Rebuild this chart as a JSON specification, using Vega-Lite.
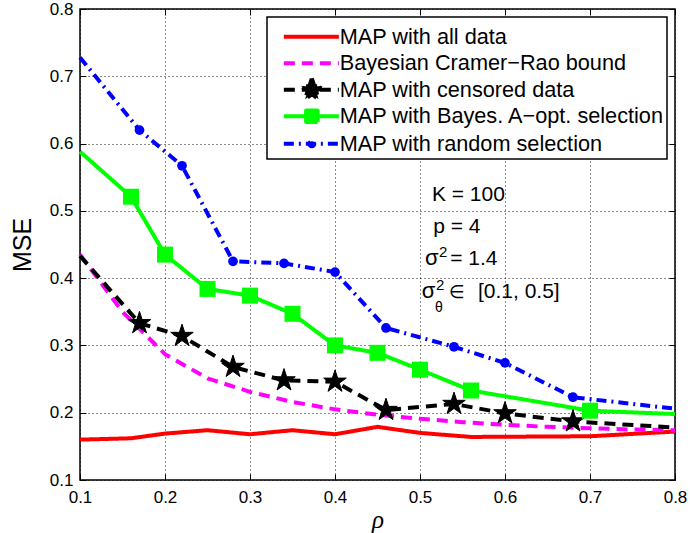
{
  "$schema": "https://vega.github.io/schema/vega-lite/v6.json",
  "width": 595,
  "height": 471,
  "autosize": {"type": "none"},
  "padding": {"left": 80, "top": 9, "right": 15, "bottom": 53},
  "background": "white",
  "config": {
    "view": {"stroke": "black", "strokeWidth": 1.5},
    "font": "Liberation Sans",
    "axis": {
      "labelFont": "Liberation Sans",
      "labelFontSize": 17,
      "labelColor": "black",
      "labelFlush": false,
      "labelOverlap": false,
      "domain": false,
      "tickColor": "black",
      "tickWidth": 1,
      "tickSize": -6,
      "gridColor": "black",
      "gridDash": [1, 3],
      "gridOpacity": 0.9,
      "gridWidth": 1,
      "titleColor": "black",
      "titleFontWeight": "normal"
    }
  },
  "datasets": {
    "curves": [
      {"series": "MAP with all data", "rho": 0.10, "mse": 0.160, "marked": false},
      {"series": "MAP with all data", "rho": 0.16, "mse": 0.162, "marked": false},
      {"series": "MAP with all data", "rho": 0.20, "mse": 0.169, "marked": false},
      {"series": "MAP with all data", "rho": 0.25, "mse": 0.174, "marked": false},
      {"series": "MAP with all data", "rho": 0.30, "mse": 0.168, "marked": false},
      {"series": "MAP with all data", "rho": 0.35, "mse": 0.174, "marked": false},
      {"series": "MAP with all data", "rho": 0.40, "mse": 0.168, "marked": false},
      {"series": "MAP with all data", "rho": 0.45, "mse": 0.179, "marked": false},
      {"series": "MAP with all data", "rho": 0.50, "mse": 0.170, "marked": false},
      {"series": "MAP with all data", "rho": 0.56, "mse": 0.164, "marked": false},
      {"series": "MAP with all data", "rho": 0.70, "mse": 0.165, "marked": false},
      {"series": "MAP with all data", "rho": 0.80, "mse": 0.172, "marked": false},

      {"series": "Bayesian Cramer−Rao bound", "rho": 0.10, "mse": 0.435, "marked": false},
      {"series": "Bayesian Cramer−Rao bound", "rho": 0.15, "mse": 0.350, "marked": false},
      {"series": "Bayesian Cramer−Rao bound", "rho": 0.20, "mse": 0.287, "marked": false},
      {"series": "Bayesian Cramer−Rao bound", "rho": 0.25, "mse": 0.251, "marked": false},
      {"series": "Bayesian Cramer−Rao bound", "rho": 0.30, "mse": 0.231, "marked": false},
      {"series": "Bayesian Cramer−Rao bound", "rho": 0.35, "mse": 0.216, "marked": false},
      {"series": "Bayesian Cramer−Rao bound", "rho": 0.40, "mse": 0.205, "marked": false},
      {"series": "Bayesian Cramer−Rao bound", "rho": 0.45, "mse": 0.197, "marked": false},
      {"series": "Bayesian Cramer−Rao bound", "rho": 0.50, "mse": 0.191, "marked": false},
      {"series": "Bayesian Cramer−Rao bound", "rho": 0.55, "mse": 0.186, "marked": false},
      {"series": "Bayesian Cramer−Rao bound", "rho": 0.60, "mse": 0.182, "marked": false},
      {"series": "Bayesian Cramer−Rao bound", "rho": 0.65, "mse": 0.179, "marked": false},
      {"series": "Bayesian Cramer−Rao bound", "rho": 0.70, "mse": 0.177, "marked": false},
      {"series": "Bayesian Cramer−Rao bound", "rho": 0.75, "mse": 0.175, "marked": false},
      {"series": "Bayesian Cramer−Rao bound", "rho": 0.80, "mse": 0.174, "marked": false},

      {"series": "MAP with censored data", "rho": 0.10, "mse": 0.433, "marked": false},
      {"series": "MAP with censored data", "rho": 0.17, "mse": 0.333, "marked": true},
      {"series": "MAP with censored data", "rho": 0.22, "mse": 0.314, "marked": true},
      {"series": "MAP with censored data", "rho": 0.28, "mse": 0.268, "marked": true},
      {"series": "MAP with censored data", "rho": 0.34, "mse": 0.248, "marked": true},
      {"series": "MAP with censored data", "rho": 0.40, "mse": 0.246, "marked": true},
      {"series": "MAP with censored data", "rho": 0.46, "mse": 0.204, "marked": true},
      {"series": "MAP with censored data", "rho": 0.54, "mse": 0.213, "marked": true},
      {"series": "MAP with censored data", "rho": 0.60, "mse": 0.199, "marked": true},
      {"series": "MAP with censored data", "rho": 0.68, "mse": 0.187, "marked": true},
      {"series": "MAP with censored data", "rho": 0.80, "mse": 0.178, "marked": false},

      {"series": "MAP with Bayes. A−opt. selection", "rho": 0.10, "mse": 0.588, "marked": false},
      {"series": "MAP with Bayes. A−opt. selection", "rho": 0.16, "mse": 0.521, "marked": true},
      {"series": "MAP with Bayes. A−opt. selection", "rho": 0.20, "mse": 0.435, "marked": true},
      {"series": "MAP with Bayes. A−opt. selection", "rho": 0.25, "mse": 0.384, "marked": true},
      {"series": "MAP with Bayes. A−opt. selection", "rho": 0.30, "mse": 0.374, "marked": true},
      {"series": "MAP with Bayes. A−opt. selection", "rho": 0.35, "mse": 0.347, "marked": true},
      {"series": "MAP with Bayes. A−opt. selection", "rho": 0.40, "mse": 0.300, "marked": true},
      {"series": "MAP with Bayes. A−opt. selection", "rho": 0.45, "mse": 0.289, "marked": true},
      {"series": "MAP with Bayes. A−opt. selection", "rho": 0.50, "mse": 0.264, "marked": true},
      {"series": "MAP with Bayes. A−opt. selection", "rho": 0.56, "mse": 0.233, "marked": true},
      {"series": "MAP with Bayes. A−opt. selection", "rho": 0.70, "mse": 0.203, "marked": true},
      {"series": "MAP with Bayes. A−opt. selection", "rho": 0.80, "mse": 0.198, "marked": false},

      {"series": "MAP with random selection", "rho": 0.10, "mse": 0.728, "marked": false},
      {"series": "MAP with random selection", "rho": 0.17, "mse": 0.620, "marked": true},
      {"series": "MAP with random selection", "rho": 0.22, "mse": 0.567, "marked": true},
      {"series": "MAP with random selection", "rho": 0.28, "mse": 0.425, "marked": true},
      {"series": "MAP with random selection", "rho": 0.34, "mse": 0.422, "marked": true},
      {"series": "MAP with random selection", "rho": 0.40, "mse": 0.409, "marked": true},
      {"series": "MAP with random selection", "rho": 0.46, "mse": 0.326, "marked": true},
      {"series": "MAP with random selection", "rho": 0.54, "mse": 0.298, "marked": true},
      {"series": "MAP with random selection", "rho": 0.60, "mse": 0.274, "marked": true},
      {"series": "MAP with random selection", "rho": 0.68, "mse": 0.223, "marked": true},
      {"series": "MAP with random selection", "rho": 0.80, "mse": 0.206, "marked": false}
    ]
  },
  "data": {"name": "curves"},
  "resolve": {"axis": {"x": "independent", "y": "independent"}},
  "layer": [
    {
      "mark": {"type": "line", "strokeCap": "butt", "strokeJoin": "round"},
      "encoding": {
        "x": {
          "field": "rho", "type": "quantitative", "title": "ρ",
          "scale": {"domain": [0.1, 0.8], "nice": false, "zero": false},
          "axis": {
            "values": [0.1, 0.2, 0.3, 0.4, 0.5, 0.6, 0.7, 0.8], "format": ".1f",
            "labelPadding": 15, "titleFont": "Liberation Serif", "titleFontStyle": "italic",
            "titleFontSize": 25, "titlePadding": 2
          }
        },
        "y": {
          "field": "mse", "type": "quantitative", "title": "MSE",
          "scale": {"domain": [0.1, 0.8], "nice": false, "zero": false},
          "axis": {
            "values": [0.1, 0.2, 0.3, 0.4, 0.5, 0.6, 0.7, 0.8], "format": ".1f",
            "labelPadding": 13, "titleFont": "Liberation Sans", "titleFontSize": 25, "titlePadding": 14
          }
        },
        "color": {
          "field": "series", "type": "nominal",
          "scale": {
            "domain": ["MAP with all data", "Bayesian Cramer−Rao bound", "MAP with censored data", "MAP with Bayes. A−opt. selection", "MAP with random selection"],
            "range": ["#ff0000", "#ff00ff", "#000000", "#00ff00", "#0000ff"]
          },
          "legend": {
            "title": " ", "titleFontSize": 2, "titlePadding": 5,
            "orient": "top-right", "offset": 8, "padding": 2,
            "fillColor": "white", "strokeColor": "black",
            "labelFont": "Liberation Sans", "labelFontSize": 21.7, "labelColor": "black",
            "labelLimit": 600, "labelOffset": 49, "symbolSize": 100, "rowPadding": 0.5,
            "encode": {
              "legend": {"update": {"strokeWidth": {"value": 1.5}}},
              "symbols": {
                "update": {
                  "shape": {"signal": "datum.index === 2 ? 'M0.8,0H11.8M6.4,-2.3M6.4,1.86M6.4,-2.3L6.916,-0.711L8.588,-0.711L7.236,0.271L7.752,1.861L6.4,0.879L5.048,1.861L5.564,0.271L4.213,-0.711L5.884,-0.711Z' : datum.index === 3 ? 'M0.8,0H11.8M6.4,-2.3M6.4,1.86M5.25,-1.15H7.55V1.15H5.25Z' : datum.index === 4 ? 'M0.8,0H11.8M6.4,-2.5M6.4,2.06M6.9,0A0.5,0.5,0,1,1,5.9,0A0.5,0.5,0,1,1,6.9,0Z' : 'M0.8,0H11.8M6.4,-2.3M6.4,1.86'"},
                  "fill": {"scale": "color", "field": "value"},
                  "stroke": {"scale": "color", "field": "value"},
                  "strokeDash": {"signal": "datum.index === 1 || datum.index === 2 ? [11, 7] : datum.index === 4 ? [10, 5, 2, 5] : [1, 0]"},
                  "strokeWidth": {"signal": "datum.index === 4 ? 3 : 4"},
                  "strokeJoin": {"value": "round"},
                  "opacity": {"value": 1},
                  "fillOpacity": {"value": 1},
                  "strokeOpacity": {"value": 1}
                }
              }
            }
          }
        },
        "strokeDash": {
          "field": "series", "type": "nominal", "legend": null,
          "scale": {
            "domain": ["MAP with all data", "Bayesian Cramer−Rao bound", "MAP with censored data", "MAP with Bayes. A−opt. selection", "MAP with random selection"],
            "range": [[1, 0], [11, 7], [11, 7], [1, 0], [10, 5, 2, 5]]
          }
        },
        "strokeWidth": {
          "field": "series", "type": "ordinal", "legend": null,
          "scale": {
            "domain": ["MAP with all data", "Bayesian Cramer−Rao bound", "MAP with censored data", "MAP with Bayes. A−opt. selection", "MAP with random selection"],
            "range": [4, 4, 4, 4, 3]
          }
        },
        "order": {"field": "rho", "type": "quantitative"}
      }
    },
    {
      "transform": [{"filter": "datum.marked && datum.series === 'MAP with censored data'"}],
      "mark": {
        "type": "point", "filled": true, "color": "black", "stroke": "black", "strokeWidth": 1, "opacity": 1, "size": 560,
        "shape": "M0,-1L0.2245,-0.309L0.9511,-0.309L0.3633,0.118L0.5878,0.809L0,0.382L-0.5878,0.809L-0.3633,0.118L-0.9511,-0.309L-0.2245,-0.309Z"
      },
      "encoding": {
        "x": {"field": "rho", "type": "quantitative", "axis": null},
        "y": {"field": "mse", "type": "quantitative", "axis": null}
      }
    },
    {
      "transform": [{"filter": "datum.marked && datum.series === 'MAP with Bayes. A−opt. selection'"}],
      "mark": {"type": "point", "shape": "square", "filled": true, "color": "#00ff00", "opacity": 1, "size": 256},
      "encoding": {
        "x": {"field": "rho", "type": "quantitative", "axis": null},
        "y": {"field": "mse", "type": "quantitative", "axis": null}
      }
    },
    {
      "transform": [{"filter": "datum.marked && datum.series === 'MAP with random selection'"}],
      "mark": {"type": "point", "shape": "circle", "filled": true, "color": "#0000ff", "opacity": 1, "size": 95},
      "encoding": {
        "x": {"field": "rho", "type": "quantitative", "axis": null},
        "y": {"field": "mse", "type": "quantitative", "axis": null}
      }
    },
    {
      "mark": {"type": "point", "opacity": 0},
      "encoding": {
        "x": {"field": "rho", "type": "quantitative", "axis": {"orient": "top", "labels": false, "grid": false, "title": null, "values": [0.1, 0.2, 0.3, 0.4, 0.5, 0.6, 0.7, 0.8]}},
        "y": {"field": "mse", "type": "quantitative", "axis": {"orient": "right", "labels": false, "grid": false, "title": null, "values": [0.1, 0.2, 0.3, 0.4, 0.5, 0.6, 0.7, 0.8]}}
      }
    },
    {
      "data": {"values": [{}]},
      "mark": {"type": "text", "text": "K = 100", "font": "Liberation Sans", "fontSize": 21, "align": "left", "baseline": "alphabetic", "color": "black"},
      "encoding": {"x": {"datum": 0.514, "type": "quantitative", "axis": null}, "y": {"datum": 0.515, "type": "quantitative", "axis": null}}
    },
    {
      "data": {"values": [{}]},
      "mark": {"type": "text", "text": "p = 4", "font": "Liberation Sans", "fontSize": 21, "align": "left", "baseline": "alphabetic", "color": "black"},
      "encoding": {"x": {"datum": 0.5155, "type": "quantitative", "axis": null}, "y": {"datum": 0.4676, "type": "quantitative", "axis": null}}
    },
    {
      "data": {"values": [{}]},
      "mark": {"type": "text", "text": "σ", "font": "Liberation Sans", "fontSize": 22, "align": "left", "baseline": "alphabetic", "color": "black"},
      "encoding": {"x": {"datum": 0.5059, "type": "quantitative", "axis": null}, "y": {"datum": 0.4196, "type": "quantitative", "axis": null}}
    },
    {
      "data": {"values": [{}]},
      "mark": {"type": "text", "text": "2", "font": "Liberation Sans", "fontSize": 15, "align": "left", "baseline": "alphabetic", "color": "black"},
      "encoding": {"x": {"datum": 0.5224, "type": "quantitative", "axis": null}, "y": {"datum": 0.4315, "type": "quantitative", "axis": null}}
    },
    {
      "data": {"values": [{}]},
      "mark": {"type": "text", "text": "= 1.4", "font": "Liberation Sans", "fontSize": 21, "align": "left", "baseline": "alphabetic", "color": "black"},
      "encoding": {"x": {"datum": 0.5355, "type": "quantitative", "axis": null}, "y": {"datum": 0.4196, "type": "quantitative", "axis": null}}
    },
    {
      "data": {"values": [{}]},
      "mark": {"type": "text", "text": "σ", "font": "Liberation Sans", "fontSize": 22, "align": "left", "baseline": "alphabetic", "color": "black"},
      "encoding": {"x": {"datum": 0.502, "type": "quantitative", "axis": null}, "y": {"datum": 0.3706, "type": "quantitative", "axis": null}}
    },
    {
      "data": {"values": [{}]},
      "mark": {"type": "text", "text": "2", "font": "Liberation Sans", "fontSize": 15, "align": "left", "baseline": "alphabetic", "color": "black"},
      "encoding": {"x": {"datum": 0.5188, "type": "quantitative", "axis": null}, "y": {"datum": 0.3825, "type": "quantitative", "axis": null}}
    },
    {
      "data": {"values": [{}]},
      "mark": {"type": "text", "text": "θ", "font": "Liberation Sans", "fontSize": 14, "align": "left", "baseline": "alphabetic", "color": "black"},
      "encoding": {"x": {"datum": 0.5176, "type": "quantitative", "axis": null}, "y": {"datum": 0.3498, "type": "quantitative", "axis": null}}
    },
    {
      "data": {"values": [{}]},
      "mark": {"type": "text", "text": "∈", "font": "DejaVu Sans", "fontSize": 18, "align": "left", "baseline": "alphabetic", "color": "black"},
      "encoding": {"x": {"datum": 0.5341, "type": "quantitative", "axis": null}, "y": {"datum": 0.3706, "type": "quantitative", "axis": null}}
    },
    {
      "data": {"values": [{}]},
      "mark": {"type": "text", "text": "[0.1, 0.5]", "font": "Liberation Sans", "fontSize": 21, "align": "left", "baseline": "alphabetic", "color": "black"},
      "encoding": {"x": {"datum": 0.5682, "type": "quantitative", "axis": null}, "y": {"datum": 0.3706, "type": "quantitative", "axis": null}}
    }
  ]
}
